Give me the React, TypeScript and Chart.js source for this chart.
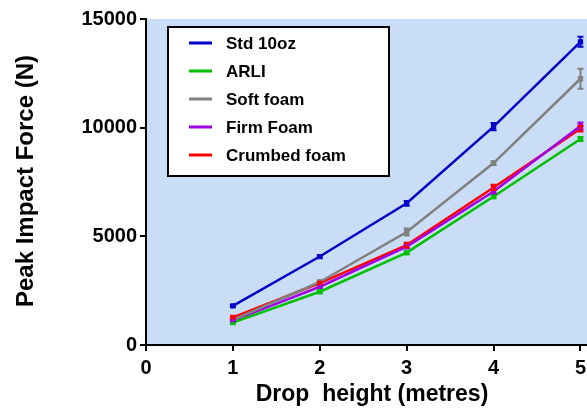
import React, { useEffect, useRef } from "react";
import { Chart, registerables } from "chart.js";

Chart.register(...registerables);

// Drop heights (metres)
const heights = [1, 2, 3, 4, 5];
const xTicks = [0, 1, 2, 3, 4, 5];
const yTicks = [0, 5000, 10000, 15000];

// Peak impact force (N) per surface, with error half-widths
const seriesNames = ["Std 10oz", "ARLI", "Soft foam", "Firm Foam", "Crumbed foam"];
const std10oz = [1800, 4070, 6520, 10050, 13950];
const std10ozErr = [40, 60, 110, 170, 230];
const arli = [1030, 2450, 4250, 6830, 9480];
const arliErr = [40, 50, 70, 80, 90];
const softFoam = [1150, 2900, 5200, 8370, 12250];
const softFoamErr = [40, 60, 160, 90, 460];
const firmFoam = [1120, 2680, 4530, 7060, 10080];
const firmFoamErr = [30, 50, 80, 90, 160];
const crumbedFoam = [1270, 2850, 4600, 7250, 9950];
const crumbedFoamErr = [40, 60, 110, 120, 130];

const seriesColors = ["#0000c8", "#00c000", "#808080", "#a000e6", "#ff0000"];

const FONT = "'Liberation Sans', Arial, sans-serif";

const values = [std10oz, arli, softFoam, firmFoam, crumbedFoam];
const errors = [std10ozErr, arliErr, softFoamErr, firmFoamErr, crumbedFoamErr];

const bgPlugin = {
  id: "plotBg",
  beforeDraw(chart: any) {
    const { ctx, chartArea } = chart;
    ctx.save();
    ctx.fillStyle = "#c9ddf6";
    ctx.fillRect(chartArea.left, chartArea.top, chart.width - chartArea.left, chartArea.bottom - chartArea.top);
    ctx.restore();
  },
};

const errorBarPlugin = {
  id: "errorBars",
  afterDatasetsDraw(chart: any) {
    const { ctx } = chart;
    const yScale = chart.scales.y;
    chart.data.datasets.forEach((ds: any, di: number) => {
      const meta = chart.getDatasetMeta(di);
      const errs = errors[di];
      ctx.save();
      ctx.strokeStyle = ds.borderColor;
      ctx.lineWidth = 2;
      meta.data.forEach((pt: any, i: number) => {
        const v = ds.data[i].y;
        const top = yScale.getPixelForValue(v + errs[i]);
        const bot = yScale.getPixelForValue(v - errs[i]);
        ctx.beginPath();
        ctx.moveTo(pt.x, top);
        ctx.lineTo(pt.x, bot);
        ctx.moveTo(pt.x - 3, top);
        ctx.lineTo(pt.x + 3, top);
        ctx.moveTo(pt.x - 3, bot);
        ctx.lineTo(pt.x + 3, bot);
        ctx.stroke();
      });
      ctx.restore();
    });
  },
};

const labelsPlugin = {
  id: "titlesAndLegend",
  afterDraw(chart: any) {
    const { ctx } = chart;
    ctx.save();
    // axis titles
    ctx.fillStyle = "#000";
    ctx.font = `bold 23px ${FONT}`;
    ctx.textAlign = "center";
    ctx.textBaseline = "middle";
    ctx.fillText("Drop  height (metres)", 372, 395);
    ctx.save();
    ctx.translate(26, 181);
    ctx.rotate(-Math.PI / 2);
    ctx.font = `bold 24px ${FONT}`;
    ctx.fillText("Peak Impact Force (N)", 0, 0);
    ctx.restore();

    // legend box
    const bx = 168, by = 27, bw = 221, bh = 149;
    ctx.fillStyle = "#ffffff";
    ctx.fillRect(bx, by, bw, bh);
    ctx.strokeStyle = "#000";
    ctx.lineWidth = 2;
    ctx.strokeRect(bx, by, bw, bh);
    ctx.font = `bold 17px ${FONT}`;
    ctx.textAlign = "left";
    ctx.textBaseline = "middle";
    chart.data.datasets.forEach((ds: any, i: number) => {
      const y = 43 + i * 28;
      ctx.strokeStyle = ds.borderColor;
      ctx.lineWidth = 3;
      ctx.beginPath();
      ctx.moveTo(189, y);
      ctx.lineTo(212, y);
      ctx.stroke();
      ctx.fillStyle = "#000";
      ctx.fillText(ds.label, 226, y + 1);
    });
    ctx.restore();
  },
};

export default function App() {
  const canvasRef = useRef<HTMLCanvasElement>(null);

  useEffect(() => {
    if (!canvasRef.current) return;
    const datasets = seriesNames.map((name, si) => ({
      label: name,
      data: heights.map((h, i) => ({ x: h, y: values[si][i] })),
      borderColor: seriesColors[si],
      backgroundColor: seriesColors[si],
      borderWidth: 2.5,
      pointRadius: 2,
      pointStyle: "rect" as const,
      tension: 0,
    }));

    const chart = new Chart(canvasRef.current, {
      type: "line",
      data: { datasets },
      plugins: [bgPlugin, errorBarPlugin, labelsPlugin],
      options: {
        animation: false,
        responsive: false,
        layout: { padding: { top: 19, right: 0, left: 0, bottom: 0 } },
        plugins: { legend: { display: false }, tooltip: { enabled: false } },
        scales: {
          x: {
            type: "linear",
            min: 0,
            max: 5.15,
            afterBuildTicks: (scale: any) => {
              scale.ticks = xTicks.map((v) => ({ value: v }));
            },
            afterFit: (scale: any) => {
              scale.height = 63;
            },
            grid: { drawOnChartArea: false, drawTicks: true, tickLength: 6, color: "#000", lineWidth: 2 },
            border: { display: true, color: "#000", width: 2 },
            ticks: {
              color: "#000",
              padding: 5,
              font: { family: FONT, size: 20, weight: "bold" },
              maxRotation: 0,
            },
          },
          y: {
            type: "linear",
            min: 0,
            max: 15000,
            afterBuildTicks: (scale: any) => {
              scale.ticks = yTicks.map((v) => ({ value: v }));
            },
            afterFit: (scale: any) => {
              scale.width = 146;
            },
            grid: { drawOnChartArea: false, drawTicks: true, tickLength: 6, color: "#000", lineWidth: 2 },
            border: { display: true, color: "#000", width: 2 },
            ticks: {
              color: "#000",
              padding: 3,
              font: { family: FONT, size: 20, weight: "bold" },
              callback: (v: any) => String(v),
            },
          },
        },
      },
    });
    return () => chart.destroy();
  }, []);

  return (
    <div style={{ position: "absolute", left: 0, top: 0, width: 587, height: 408, background: "#fff", overflow: "hidden" }}>
      <canvas ref={canvasRef} width={600} height={408} />
    </div>
  );
}
